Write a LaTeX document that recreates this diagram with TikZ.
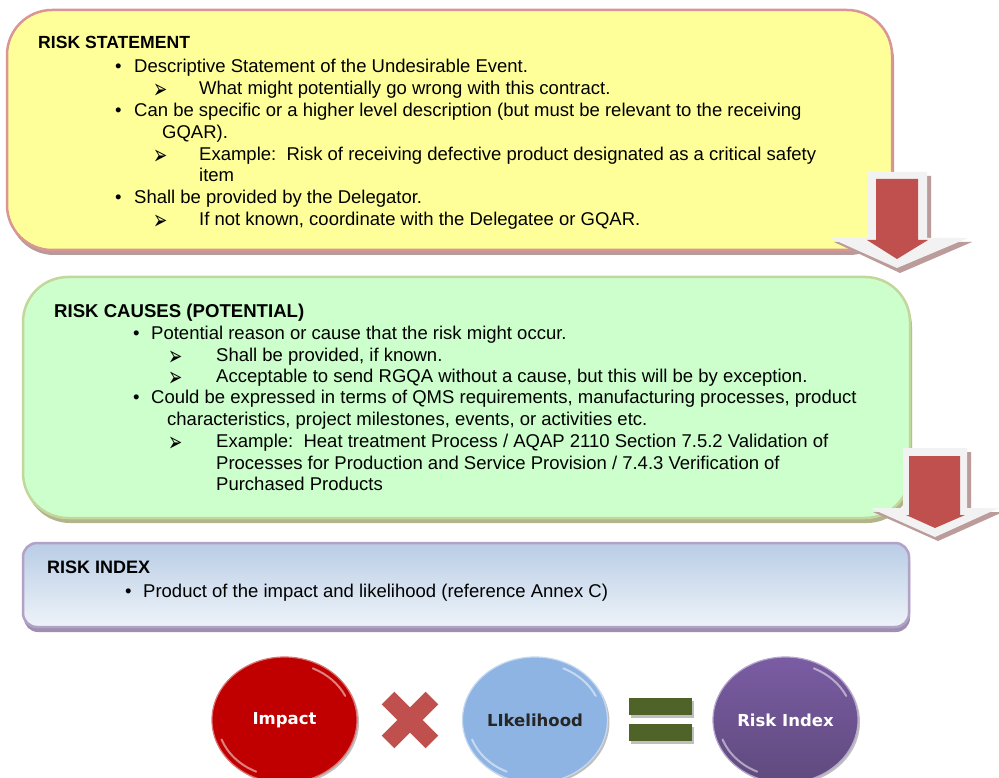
\documentclass[tikz,border=0pt]{standalone}
\usepackage{fontspec}
\setmainfont{Liberation Sans}
\newfontfamily\symfont{DejaVu Sans}
\newfontfamily\ballfont{DejaVu Sans}
\usetikzlibrary{shapes.geometric,shadows}
\definecolor{stmtfill}{HTML}{FFFF99}
\definecolor{stmtline}{HTML}{D99694}
\definecolor{stmtshade}{HTML}{B99A9A}
\definecolor{causefill}{HTML}{CCFFCC}
\definecolor{causeline}{HTML}{C3D69B}
\definecolor{causeshade}{HTML}{B3B38C}
\definecolor{indextop}{HTML}{B9CDE5}
\definecolor{indexbot}{HTML}{EEF3F9}
\definecolor{indexline}{HTML}{B3A2C7}
\definecolor{indexshade}{HTML}{9E8FAF}
\definecolor{arrowred}{HTML}{C0504D}
\definecolor{arrowwhite}{HTML}{F2F2F2}
\definecolor{arrowshade}{HTML}{BC9B9B}
\definecolor{impactred}{HTML}{C00000}
\definecolor{likeblue}{HTML}{8DB4E2}
\definecolor{riskpurple}{HTML}{7A5CA3}
\definecolor{riskdark}{HTML}{5F4A7D}
\definecolor{eqgreen}{HTML}{4F6228}
\definecolor{crossred}{HTML}{C0504D}
\newcommand{\pointer}{\scalebox{1}[1.6]{➢}}

\begin{document}
\begin{tikzpicture}[x=1pt,y=-1pt,
    panel/.style={draw, line width=2.5pt, inner sep=0pt, outer sep=0pt},
    body/.style={anchor=base west, inner sep=0pt, font=\fontsize{18.5}{22}\selectfont},
    title/.style={anchor=base west, inner sep=0pt, font=\bfseries\fontsize{18}{22}\selectfont},
    arrowmark/.style={anchor=base west, inner sep=0pt, font=\symfont\fontsize{17}{20}\selectfont},
    factor/.style={ellipse, minimum width=145pt, minimum height=126pt, inner sep=0pt,
      line width=1.2pt, font=\ballfont\bfseries\fontsize{16.5}{19}\selectfont,
      drop shadow={shadow xshift=2pt, shadow yshift=-2pt, fill=black, opacity=.25}},
    gloss/.style={white, line width=2pt, opacity=.5, line cap=round}]
  \fill[white] (0,0) rectangle (999,778);
  \clip (0,0) rectangle (999,778);

  % Risk statement
  \node[panel, draw=stmtline, fill=stmtfill, rounded corners=45pt,
    minimum width=885pt, minimum height=240pt,
    drop shadow={shadow xshift=2pt, shadow yshift=-5pt, fill=stmtshade, opacity=1}] (stmt) at (449.5,130) {};
  \node[title, font=\bfseries\fontsize{17.6}{22}\selectfont] (s0) at (38,49) {RISK STATEMENT};
  \node[body] (sb1) at (115,73) {•};
  \node[body] (s1) at (134,73) {Descriptive Statement of the Undesirable Event.};
  \node[arrowmark] (sa1) at (153,99) {\pointer};
  \node[body] (s2) at (199,95) {What might potentially go wrong with this contract.};
  \node[body] (sb2) at (115,117) {•};
  \node[body] (s3) at (134,117) {Can be specific or a higher level description (but must be relevant to the receiving};
  \node[body] (s4) at (162,139) {GQAR).};
  \node[arrowmark] (sa2) at (153,165) {\pointer};
  \node[body] (s5) at (199,161) {Example:\ \ Risk of receiving defective product designated as a critical safety};
  \node[body] (s6) at (199,182) {item};
  \node[body] (sb3) at (115,204) {•};
  \node[body] (s7) at (134,204) {Shall be provided by the Delegator.};
  \node[arrowmark] (sa3) at (153,230) {\pointer};
  \node[body] (s8) at (199,226) {If not known, coordinate with the Delegatee or GQAR.};

  % Arrow down to causes
  \fill[arrowshade] (871,176) -- (931,176) -- (931,242) -- (972,242) -- (900,273) -- (834,242) -- (871,242) -- cycle;
  \fill[arrowwhite] (868,172) -- (927,172) -- (927,238) -- (968,238) -- (897,268) -- (830,238) -- (868,238) -- cycle;
  \fill[arrowred] (876,179) -- (918,179) -- (918,240) -- (928,240) -- (897,259) -- (867,240) -- (876,240) -- cycle;

  % Risk causes
  \node[panel, draw=causeline, fill=causefill, rounded corners=45pt,
    minimum width=887pt, minimum height=241pt,
    drop shadow={shadow xshift=2pt, shadow yshift=-5pt, fill=causeshade, opacity=1}] (causes) at (466.5,397.5) {};
  \node[title, font=\bfseries\fontsize{18.6}{22}\selectfont] (c0) at (54,317) {RISK CAUSES (POTENTIAL)};
  \node[body] (cb1) at (133,339) {•};
  \node[body] (c1) at (151,339) {Potential reason or cause that the risk might occur.};
  \node[arrowmark] (ca1) at (168,365) {\pointer};
  \node[body] (c2) at (216,361) {Shall be provided, if known.};
  \node[arrowmark] (ca2) at (168,386) {\pointer};
  \node[body] (c3) at (216,382) {Acceptable to send RGQA without a cause, but this will be by exception.};
  \node[body] (cb2) at (133,403) {•};
  \node[body] (c4) at (151,403) {Could be expressed in terms of QMS requirements, manufacturing processes, product};
  \node[body] (c5) at (167,425) {characteristics, project milestones, events, or activities etc.};
  \node[arrowmark] (ca3) at (168,451) {\pointer};
  \node[body] (c6) at (216,447) {Example:\ \ Heat treatment Process / AQAP 2110 Section 7.5.2 Validation of};
  \node[body] (c7) at (216,469) {Processes for Production and Service Provision / 7.4.3 Verification of};
  \node[body] (c8) at (216,490) {Purchased Products};

  % Arrow down to index
  \fill[arrowshade] (906,452) -- (971,452) -- (971,512) -- (1003,512) -- (938,541) -- (873,512) -- (906,512) -- cycle;
  \fill[arrowwhite] (903,448) -- (967,448) -- (967,508) -- (999,508) -- (935,537) -- (870,508) -- (903,508) -- cycle;
  \fill[arrowred] (909,456) -- (960,456) -- (960,515) -- (965,515) -- (935,528) -- (906,515) -- (909,515) -- cycle;

  % Risk index
  \node[panel, draw=indexline, top color=indextop, bottom color=indexbot, rounded corners=14pt,
    minimum width=886pt, minimum height=84pt,
    drop shadow={shadow xshift=1pt, shadow yshift=-5pt, fill=indexshade, opacity=1}] (index) at (466,585) {};
  \node[title] (i0) at (47,573) {RISK INDEX};
  \node[body] (ib1) at (125,597) {•};
  \node[body] (i1) at (143,597) {Product of the impact and likelihood (reference Annex C)};

  % Impact x likelihood = risk index
  \node[factor, fill=impactred, draw=white!45!impactred, text=white] (impact) at (284.5,720) {Impact};
  \node[factor, fill=likeblue, draw=white!50!likeblue, text=black!85] (likely) at (535,720) {LIkelihood};
  \node[factor, top color=riskpurple, bottom color=riskdark, draw=white!45!riskpurple, text=white] (risk) at (785.5,720) {Risk Index};
  \foreach \c in {impact,likely,risk}{
    \draw[gloss] ([shift={(115:67 and 57)}]\c.center) arc[start angle=115, end angle=160, x radius=67, y radius=57];
    \draw[gloss] ([shift={(-65:67 and 57)}]\c.center) arc[start angle=-65, end angle=-25, x radius=67, y radius=57];
  }
  \fill[crossred, rotate around={45:(410,720)}] (379,711) rectangle (441,729);
  \fill[crossred, rotate around={-45:(410,720)}] (379,711) rectangle (441,729);
  \fill[black!25] (631,701) rectangle (694,718);
  \fill[black!25] (631,727) rectangle (694,744);
  \fill[eqgreen] (629,698) rectangle (692,715);
  \fill[eqgreen] (629,724) rectangle (692,741);
\end{tikzpicture}
\end{document}
